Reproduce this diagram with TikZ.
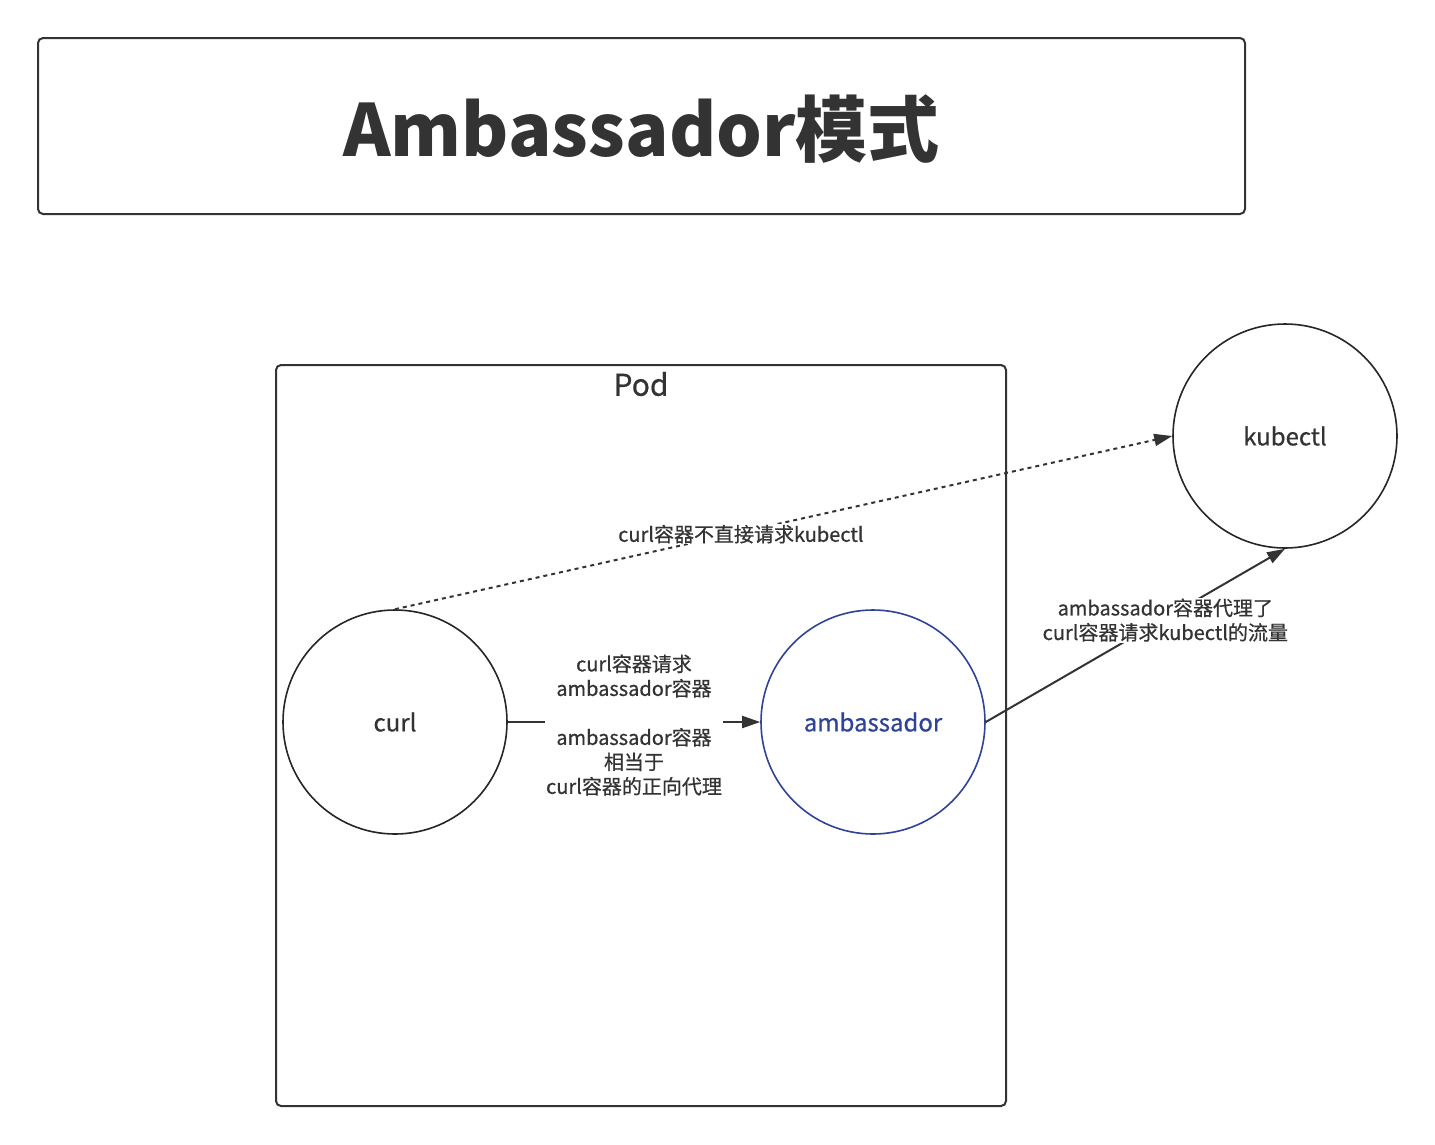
\documentclass[tikz,border=0pt]{standalone}
\usepackage{fontspec}
\setmainfont{Noto Sans CJK SC}
\newfontfamily\medfont{Noto Sans CJK SC}[FakeBold=0.6]
\usetikzlibrary{arrows.meta}
\definecolor{ink}{HTML}{333333}
\definecolor{blu}{HTML}{2F4399}
\begin{document}
\begin{tikzpicture}[x=1pt,y=-1pt,
  box/.style={draw=ink, line width=2pt, rounded corners=5pt, inner sep=0pt},
  circ/.style={circle, draw=black!85, line width=1.6pt, minimum size=224pt, inner sep=0pt, text=ink, font=\medfont\fontsize{24}{28}\selectfont},
  lbl/.style={fill=white, text=ink, font=\medfont\fontsize{20}{24.5}\selectfont, align=center, inner sep=1pt},
  conn/.style={draw=ink, line width=2pt, -{Triangle[length=18pt,width=12pt]}}]
\useasboundingbox (0,0) rectangle (1435,1144);
\fill[white] (0,0) rectangle (1435,1144);
\node[box, minimum width=1207pt, minimum height=176pt] (title) at (641.5,126) {};
\node[text=ink, font=\fontsize{72}{80}\selectfont\bfseries] (titletxt) at (641.5,129) {Ambassador模式};
\node[box, minimum width=730pt, minimum height=741pt] (pod) at (641,735.5) {};
\node[text=ink, font=\medfont\fontsize{30}{34}\selectfont] (podlbl) at (641,384) {Pod};
\node[circ] (curl) at (395,722) {\raisebox{-3pt}{curl}};
\node[circ, draw=blu, text=blu] (amb) at (873,722) {\raisebox{-3pt}{ambassador}};
\node[circ] (kub) at (1285,436) {\raisebox{-2pt}{kubectl}};
\draw[conn, dash pattern=on 4pt off 4pt] (curl.north) -- (kub.west) node[lbl, pos=0.445, yshift=-2pt] (l1) {curl容器不直接请求kubectl};
\draw[conn] (curl.east) -- (amb.west) node[lbl, midway, yshift=-3pt] (l2) {curl容器请求\\ambassador容器\\[24.5pt]ambassador容器\\相当于\\curl容器的正向代理};
\draw[conn] (amb.east) -- (kub.south) node[lbl, pos=0.6, yshift=-2pt] (l3) {ambassador容器代理了\\curl容器请求kubectl的流量};
\end{tikzpicture}
\end{document}
